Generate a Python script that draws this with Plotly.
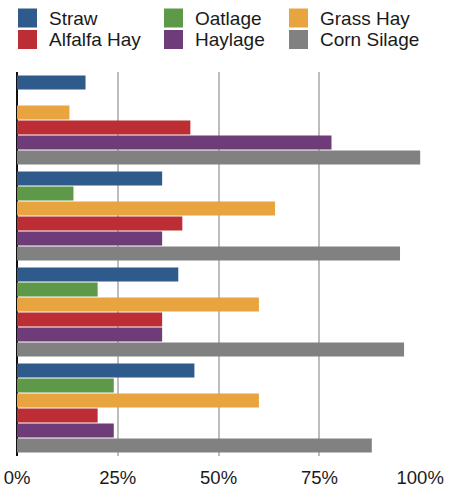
import plotly.graph_objects as go

groups = ["Group 1", "Group 2", "Group 3", "Group 4"]
series_names = ["Straw", "Oatlage", "Grass Hay", "Alfalfa Hay", "Haylage", "Corn Silage"]
straw = [17, 36, 40, 44]
oatlage = [None, 14, 20, 24]
grass_hay = [13, 64, 60, 60]
alfalfa_hay = [43, 41, 36, 20]
haylage = [78, 36, 36, 24]
corn_silage = [100, 95, 96, 88]
tick_vals = [0, 25, 50, 75, 100]
tick_text = ["0%", "25%", "50%", "75%", "100%"]

colors = ["#2E5A8C", "#5E9849", "#E8A43E", "#BC2E33", "#6F3C7A", "#808180"]
values = [straw, oatlage, grass_hay, alfalfa_hay, haylage, corn_silage]

W, H = 459, 491
ML, MR, MT, MB = 17, 38, 72, 35
PW, PH = W - ML - MR, H - MT - MB

fig = go.Figure()
for name, vals, col in zip(series_names, values, colors):
    fig.add_trace(go.Bar(
        y=groups, x=vals, name=name, orientation="h",
        marker=dict(color=col, line=dict(width=0)),
        showlegend=False,
    ))

# Legend drawn as swatches + labels (3 columns x 2 rows), in pixel layout
col_left_px = [18, 164, 289]
row_center_px = [18, 39.5]
swatch_px = 19
text_gap_px = 30

def px_to_paper_x(px):
    return (px - ML) / PW

def px_to_paper_y(py):
    return (H - MB - py) / PH

shapes = []
annotations = []
for i, (name, col) in enumerate(zip(series_names, colors)):
    r, c = divmod(i, 3)
    xl = col_left_px[c]
    yc = row_center_px[r]
    shapes.append(dict(
        type="rect", xref="paper", yref="paper",
        xsizemode="pixel", ysizemode="pixel",
        xanchor=px_to_paper_x(xl), yanchor=px_to_paper_y(yc),
        x0=0, x1=swatch_px, y0=-swatch_px / 2, y1=swatch_px / 2,
        fillcolor=col, line=dict(width=0), layer="above",
    ))
    annotations.append(dict(
        xref="paper", yref="paper",
        x=px_to_paper_x(xl + text_gap_px - 1), y=px_to_paper_y(yc),
        xanchor="left", yanchor="middle", showarrow=False,
        text=name, font=dict(size=19, color="#1a1a1a"),
    ))

fig.update_layout(
    width=W, height=H,
    barmode="group", bargap=0.06, bargroupgap=0.07,
    plot_bgcolor="white", paper_bgcolor="white",
    margin=dict(l=ML, r=MR, t=MT, b=MB, autoexpand=False),
    font=dict(family="Liberation Sans, Arial, sans-serif", size=18.5, color="#1a1a1a"),
    showlegend=False,
    shapes=shapes,
    annotations=annotations,
    xaxis=dict(
        range=[0, 100.2], tickvals=tick_vals, ticktext=tick_text,
        showgrid=True, gridcolor="#BDBDBD", gridwidth=1.5,
        zeroline=True, zerolinecolor="#111111", zerolinewidth=1.5,
        showline=False, ticks="", fixedrange=True, automargin=False,
        ticklabelstandoff=8, tickfont=dict(size=18.5, color="#1a1a1a"),
    ),
    yaxis=dict(
        autorange="reversed", showticklabels=False, showgrid=False,
        zeroline=False, showline=False, ticks="", automargin=False,
        fixedrange=True,
    ),
)

fig.write_html(
    "out.html",
    config={"displayModeBar": False},
    post_script="document.body.style.margin='0';document.body.style.overflow='hidden';",
)
